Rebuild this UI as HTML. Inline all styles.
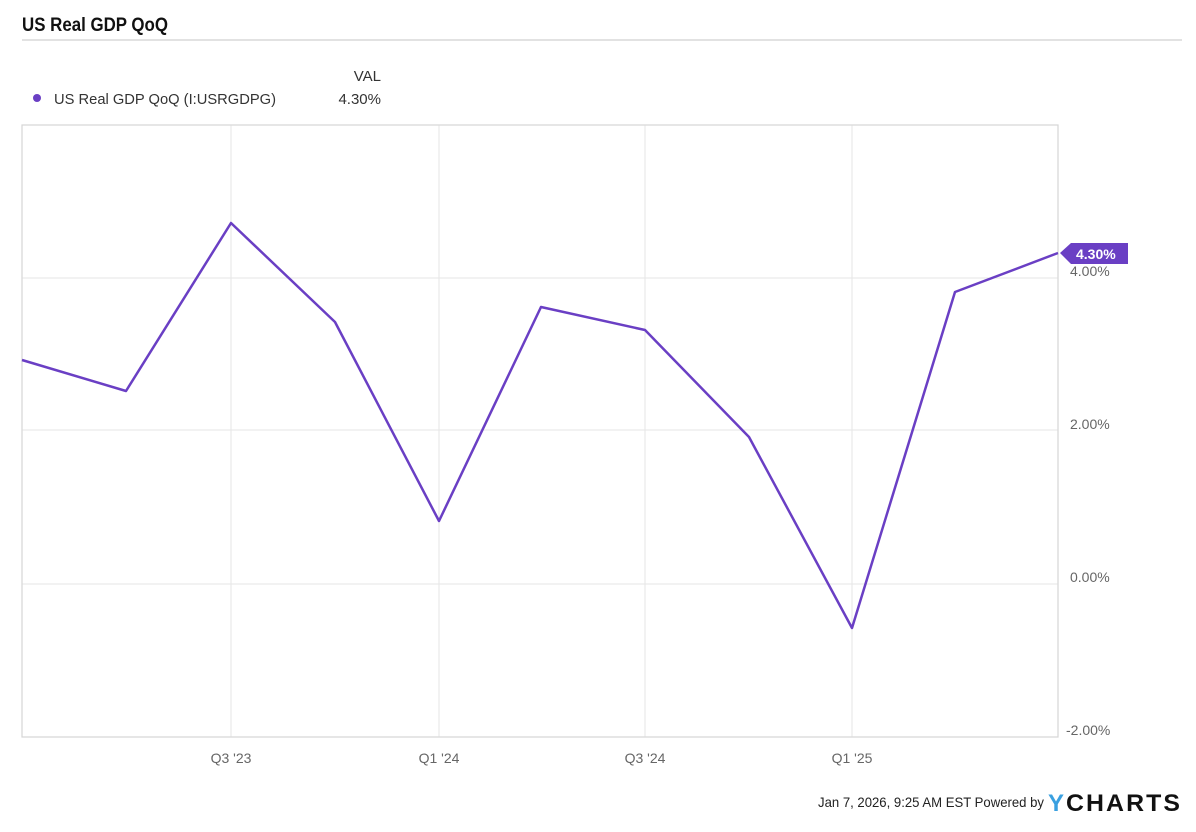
<!DOCTYPE html>
<html><head><meta charset="utf-8"><style>
body{margin:0;background:#fff;width:1196px;height:827px;overflow:hidden;font-family:"Liberation Sans",sans-serif;}
</style></head><body>
<svg width="1196" height="827" xmlns="http://www.w3.org/2000/svg" font-family="Liberation Sans, sans-serif">
<text x="22" y="31" font-size="19" font-weight="bold" fill="#111" textLength="146" lengthAdjust="spacingAndGlyphs">US Real GDP QoQ</text>
<line x1="22" y1="40" x2="1182" y2="40" stroke="#d8d8d8" stroke-width="1.5"/>
<circle cx="37" cy="98" r="4" fill="#6a3fc4"/>
<text x="54" y="104" font-size="15" fill="#333" textLength="222" lengthAdjust="spacingAndGlyphs">US Real GDP QoQ (I:USRGDPG)</text>
<text x="381" y="81" font-size="15" fill="#333" text-anchor="end">VAL</text>
<text x="381" y="104" font-size="15" fill="#333" text-anchor="end">4.30%</text>
<g stroke="#e6e6e6" stroke-width="1">
<line x1="22" y1="278" x2="1058" y2="278"/>
<line x1="22" y1="430" x2="1058" y2="430"/>
<line x1="22" y1="584" x2="1058" y2="584"/>
<line x1="231" y1="125" x2="231" y2="737"/>
<line x1="439" y1="125" x2="439" y2="737"/>
<line x1="645" y1="125" x2="645" y2="737"/>
<line x1="852" y1="125" x2="852" y2="737"/>
</g>
<rect x="22" y="125" width="1036" height="612" fill="none" stroke="#d6d6d6" stroke-width="1.2"/>
<g font-size="14" fill="#666">
<text x="1070" y="276">4.00%</text>
<text x="1070" y="429">2.00%</text>
<text x="1070" y="582">0.00%</text>
<text x="1066" y="735">-2.00%</text>
<text x="231" y="763" text-anchor="middle">Q3 '23</text>
<text x="439" y="763" text-anchor="middle">Q1 '24</text>
<text x="645" y="763" text-anchor="middle">Q3 '24</text>
<text x="852" y="763" text-anchor="middle">Q1 '25</text>
</g>
<polyline fill="none" stroke="#6a3fc4" stroke-width="2.5" stroke-linejoin="round" points="22,360 126,391 231,223 335,322 439,521 541,307 645,330 749,437 852,628 955,292 1058,253"/>
<path d="M1060,253 L1071,243 L1128,243 L1128,264 L1071,264 Z" fill="#6a3fc4"/>
<text x="1076" y="259" font-size="14" font-weight="bold" fill="#fff">4.30%</text>
<text x="1044" y="807" font-size="14" fill="#222" text-anchor="end" textLength="226" lengthAdjust="spacingAndGlyphs">Jan 7, 2026, 9:25 AM EST Powered by</text>
<text x="1048" y="811" font-size="24" font-weight="bold" fill="#3aa0e0">Y</text>
<text x="1066" y="811" font-size="24" font-weight="bold" fill="#111" textLength="116" lengthAdjust="spacingAndGlyphs" letter-spacing="2">CHARTS</text>
</svg>
</body></html>
